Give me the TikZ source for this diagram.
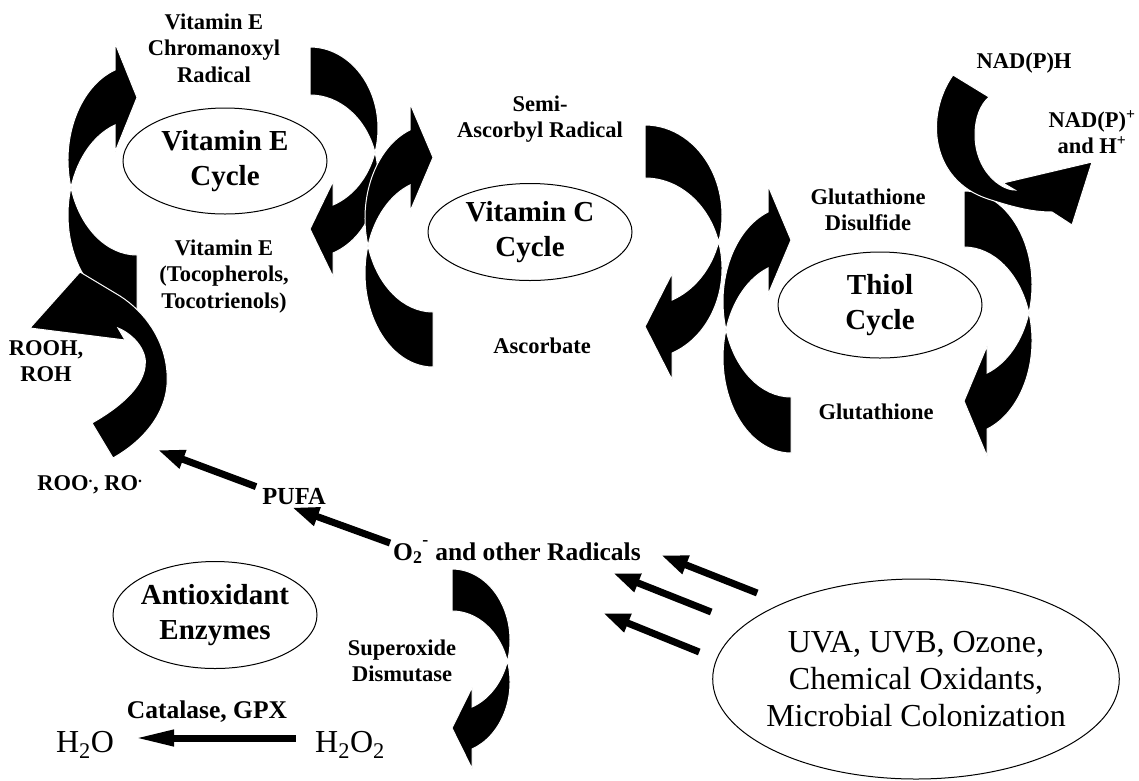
\documentclass[tikz,border=0pt]{standalone}
\usepackage{fontspec}
\setmainfont{Liberation Serif}
\usetikzlibrary{shapes.geometric,arrows.meta}

% half-ring arrow: tail cut at the origin, bulge to +x, head at the bottom pointing to -x
% #1 placement, #2 bulge, #3 half height, #4 thickness, #5 head offset, #6 head half width
\newcommand{\ringarrow}[6]{%
  \pgfmathsetmacro{\arA}{asin(#4/(2*#3))}%
  \pgfmathsetmacro{\arB}{acos(#5/#2)}%
  \pgfmathsetmacro{\arM}{#3+#4/2+#3*sin(\arB)}%
  \fill[blob,#1] (0,0)
    arc[start angle=-90, end angle=\arA, x radius=#2, y radius=#3]
    arc[start angle=-\arA, end angle=\arB, x radius=#2, y radius=#3]
    -- (#5,\arM+#6) -- (0,\arM) -- (#5,\arM-#6) -- (#5,{#3+#3*sin(\arB)})
    arc[start angle=\arB, end angle=\arA, x radius=#2, y radius=#3]
    arc[start angle=-\arA, end angle=-90, x radius=#2, y radius=#3]
    -- cycle;}
\newcommand{\rows}[1]{\begin{tabular}[t]{@{}c@{}}#1\end{tabular}}

\begin{document}
\begin{tikzpicture}[x=1pt, y=-1pt,
    blob/.style={fill=black, draw=white, line width=1pt},
    cyc/.style={ellipse, draw, line width=1pt, minimum width=204pt, minimum height=106pt,
      inner sep=0pt, align=center, font=\fontsize{29}{35}\selectfont\bfseries},
    lab/.style={font=\fontsize{22.5}{26.5}\selectfont\bfseries, inner sep=0pt, anchor=base},
    fat/.style={line width=7pt, -{Triangle[length=27pt, width=18pt]}}]
  \useasboundingbox (0,0) rectangle (1139,780);

  % the three cycles
  \ringarrow{shift={(310,47)}}{68}{81.4}{48}{23}{47.5}
  \ringarrow{shift={(137,310)},rotate=180}{69}{95}{55}{22}{54.5}
  \ringarrow{shift={(433,367)},rotate=180}{68}{93.8}{55}{23}{54}
  \ringarrow{shift={(645,125)}}{77}{90.4}{53}{27}{53}
  \ringarrow{shift={(964,191)}}{68}{93.8}{56}{23}{55}
  \ringarrow{shift={(791,453)},rotate=180}{68}{95.3}{56}{23}{54.5}
  \ringarrow{shift={(452,569)}}{58}{71.2}{42}{20}{40.5}

  % ROO -> ROOH
  \fill[blob] (113,458) .. controls (145,440) and (170,410) .. (167,373)
    .. controls (165,340) and (145,312) .. (120,296) -- (80,272) -- (30,328)
    -- (125,340) -- (118,328) .. controls (135,335) and (148,352) .. (145,367)
    .. controls (142,390) and (115,410) .. (92,423) -- cycle;
  % NAD(P)H -> NAD(P)+
  \fill[blob] (953,75) .. controls (925,115) and (930,180) .. (988,199)
    .. controls (1010,206) and (1030,212) .. (1052,212) -- (1072,225) -- (1092,162)
    -- (1003,183) -- (1015,190) .. controls (1000,190) and (975,170) .. (975,135)
    .. controls (975,118) and (980,105) .. (989,97) -- cycle;

  \node[cyc] (vite) at (225,161) {Vitamin E\\Cycle};
  \node[cyc, minimum height=97pt] (vitc) at (530,232) {Vitamin C\\Cycle};
  \node[cyc] (thiol) at (880,305) {Thiol\\Cycle};
  \node[cyc, minimum height=107pt, inner xsep=-3pt] (enz) at (215,615) {Antioxidant\\Enzymes};
  \node[cyc, minimum width=406pt, minimum height=200pt, inner xsep=-6pt,
    font=\fontsize{32}{37}\selectfont] (uva) at (916,679)
    {UVA, UVB, Ozone,\\Chemical Oxidants,\\Microbial Colonization};

  \node[lab] (chrom) at (214,29) {\rows{Vitamin E\\Chromanoxyl\\Radical}};
  \node[lab] (toco) at (224,255) {\rows{Vitamin E\\(Tocopherols,\\Tocotrienols)}};
  \node[lab] (semi) at (540,111) {\rows{Semi-\\Ascorbyl Radical}};
  \node[lab] (asc) at (542,353) {Ascorbate};
  \node[lab] (gssg) at (868,204) {\rows{Glutathione\\Disulfide}};
  \node[lab] (gsh) at (876,419) {Glutathione};
  \node[lab] (nadph) at (1024,68) {NAD(P)H};
  \node[lab] (nadp) at (1092,127) {\rows{NAD(P)\textsuperscript{+}\\and H\textsuperscript{+}}};
  \node[lab] (rooh) at (46,355) {\rows{ROOH,\\ROH}};
  \node[lab] (roo) at (90,490) {ROO\textsuperscript{.}, RO\textsuperscript{.}};
  \node[lab, font=\fontsize{24.5}{28}\selectfont\bfseries] (pufa) at (294,504) {PUFA};
  \node[lab, anchor=base west, font=\fontsize{25.5}{30}\selectfont\bfseries] (o2) at (393,560)
    {O\textsubscript{2}\textsuperscript{\raisebox{.3em}{-}} and other Radicals};
  \node[lab] (sod) at (402,655) {\rows{Superoxide\\Dismutase}};
  \node[lab, font=\fontsize{25.5}{30}\selectfont\bfseries] (cat) at (207,718) {Catalase, GPX};
  \node[lab, font=\fontsize{32}{37}\selectfont] (h2o) at (85,752) {H\textsubscript{2}O};
  \node[lab, font=\fontsize{32}{37}\selectfont] (h2o2) at (350,752) {H\textsubscript{2}O\textsubscript{2}};

  \draw[fat] ([shift={(-6,-1)}]pufa.north west) -- ([shift={(15,-25)}]roo.north east);
  \draw[fat] ([shift={(-3,-17)}]o2.base west) -- ([shift={(-2,3)}]pufa.south);
  \draw[fat] ([shift={(45,-86)}]uva.west) -- ([shift={(20,-5)}]o2.base east);
  \draw[fat] ([shift={(-1,-67)}]uva.west) -- ([shift={(-28,13)}]o2.base east);
  \draw[fat] ([shift={(-13,-27)}]uva.west) -- ([shift={(-38,53)}]o2.base east);
  \draw[fat, -{Triangle[length=40pt, width=15pt]}] ([shift={(-19,-14)}]h2o2.base west)
    -- ([shift={(20,-14)}]h2o.base east);
\end{tikzpicture}
\end{document}
